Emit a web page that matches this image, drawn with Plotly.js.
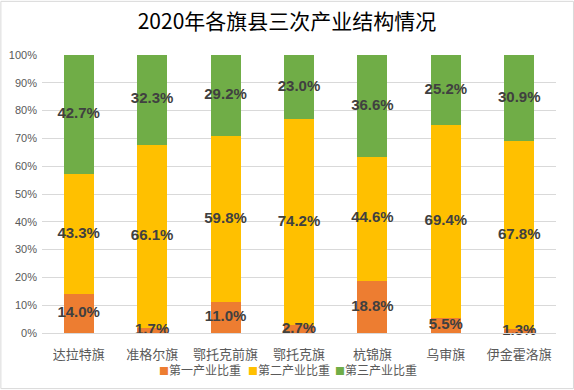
<!DOCTYPE html>
<html>
<head>
<meta charset="utf-8">
<script src="https://cdn.plot.ly/plotly-3.0.1.min.js"></script>
<style>html,body{margin:0;padding:0;background:#fff;}#chart{width:574px;height:390px;}</style>
</head>
<body>
<div id="chart"></div>
<script>
var categories = ["达拉特旗", "准格尔旗", "鄂托克前旗", "鄂托克旗", "杭锦旗", "乌审旗", "伊金霍洛旗"];
var seriesNames = ["第一产业比重", "第二产业比重", "第三产业比重"];
var primary = [14.0, 1.7, 11.0, 2.7, 18.8, 5.5, 1.3];
var secondary = [43.3, 66.1, 59.8, 74.2, 44.6, 69.4, 67.8];
var tertiary = [42.7, 32.3, 29.2, 23.0, 36.6, 25.2, 30.9];
var colors = ["#ED7D31", "#FFC000", "#70AD47"];
var yTicks = [0, 10, 20, 30, 40, 50, 60, 70, 80, 90, 100];
var yTickLabels = yTicks.map(function(v){ return v + "%"; });

var cjk = '"Noto Sans CJK SC", "Noto Sans", sans-serif';
var series = [primary, secondary, tertiary];
var traces = [];
series.forEach(function(vals, i){
  traces.push({
    type: "bar", x: categories, y: vals, name: seriesNames[i],
    marker: {color: colors[i]}, hoverinfo: "skip"
  });
});
// label traces at segment midpoints
var cum = categories.map(function(){ return 0; });
series.forEach(function(vals, i){
  var mids = vals.map(function(v, j){ var m = cum[j] + v / 2; cum[j] += v; return m; });
  traces.push({
    type: "scatter", mode: "text", x: categories, y: mids,
    text: vals.map(function(v){ return v.toFixed(1) + "%"; }),
    textposition: "middle center",
    textfont: {family: '"Liberation Sans", Arial, sans-serif', size: 15, color: "#404040", weight: "bold"},
    showlegend: false, hoverinfo: "skip", cliponaxis: false
  });
});

// compact Excel-style legend built from the series names and colours
var plotL = 42, plotW = 514;
var legendPx = [157, 246, 333];
var legendAnn = seriesNames.map(function(n, i){
  return {
    xref: "paper", yref: "paper", x: (legendPx[i] - plotL) / plotW, y: -0.133,
    xanchor: "left", yanchor: "middle", showarrow: false,
    text: '<span style="color:' + colors[i] + ';font-size:10px">■</span>' + n,
    font: {family: cjk, size: 12, color: "#595959"}
  };
});

var layout = {
  width: 574, height: 390,
  margin: {l: 42, r: 18, t: 55, b: 57, autoexpand: false},
  paper_bgcolor: "#ffffff", plot_bgcolor: "#ffffff",
  barmode: "stack", bargap: 0.59,
  showlegend: false,
  title: {text: "2020年各旗县三次产业结构情况", font: {family: cjk, size: 21, color: "#000000"}, x: 0.5, xanchor: "center", y: 0.944, yanchor: "middle"},
  xaxis: {
    type: "category", showgrid: false, zeroline: false, automargin: false,
    showline: true, linecolor: "#D9D9D9", linewidth: 1,
    tickfont: {family: cjk, size: 13, color: "#595959"}, ticks: "", ticklabelstandoff: 9
  },
  yaxis: {
    range: [0, 100], tickvals: yTicks, ticktext: yTickLabels, automargin: false,
    showgrid: true, gridcolor: "#D9D9D9", gridwidth: 1, zeroline: false,
    showline: false, ticks: "", ticklabelstandoff: 4,
    tickfont: {family: '"Liberation Sans", Arial, sans-serif', size: 11, color: "#595959"}
  },
  annotations: legendAnn,
  shapes: [{type: "rect", xref: "paper", yref: "paper", x0: -0.08, x1: 1.034, y0: -0.2, y1: 1.193,
    line: {color: "#D9D9D9", width: 1}}]
};
Plotly.newPlot("chart", traces, layout, {staticPlot: true, displayModeBar: false});
</script>
</body>
</html>
